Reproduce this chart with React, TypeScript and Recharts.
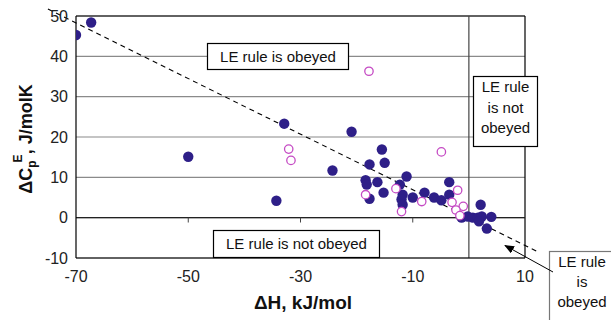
import React from "react";
import {
  ScatterChart,
  Scatter,
  XAxis,
  YAxis,
  CartesianGrid,
  ReferenceLine,
} from "recharts";

const filledX = [-70.0, -67.3, -50.0, -34.3, -32.9, -24.3, -20.9, -15.5, -17.7, -15.0, -18.4, -18.2, -16.3, -17.7, -15.2, -11.1, -12.3, -11.8, -12.0, -11.8, -10.0, -7.9, -6.2, -4.9, -3.5, -3.5, -1.3, -0.2, 0.7, 1.6, 2.3, 1.8, 2.1, 4.0, 3.2];
const filledY = [45.3, 48.4, 15.1, 4.2, 23.3, 11.7, 21.3, 16.9, 13.2, 13.6, 9.3, 8.2, 8.8, 4.7, 6.2, 10.2, 8.2, 5.7, 4.5, 3.2, 5.0, 6.2, 5.0, 4.3, 8.8, 5.7, 0.0, 0.3, 0.0, 0.0, 0.3, -0.9, 3.2, 0.2, -2.7];

const openX = [-32.1, -31.7, -17.8, -18.4, -13.0, -12.0, -8.4, -4.9, -2.0, -3.0, -1.0, -2.3, -1.6];
const openY = [17.0, 14.2, 36.3, 5.7, 7.2, 1.5, 4.0, 16.3, 6.8, 3.8, 2.8, 1.9, 0.5];

const xTicks = [-70, -50, -30, -10, 10];
const yTicks = [-10, 0, 10, 20, 30, 40, 50];
const zeroLineTicksX = [-50, -30, -10];

// LE rule line: y = -0.69 x
const leLine = [
  { x: -75, y: 51.75 },
  { x: 12, y: -8.28 },
];

const filledData = filledX.map((x, i) => ({ x, y: filledY[i] }));
const openData = openX.map((x, i) => ({ x, y: openY[i] }));

const FONT = '"Liberation Sans", Arial, Helvetica, sans-serif';
const NAVY = "#2E1F88";
const MAGENTA = "#C54BC4";

const FilledDot = (props: any) => (
  <circle cx={props.cx} cy={props.cy} r={5.2} fill={NAVY} stroke="none" />
);
const OpenDot = (props: any) => (
  <circle cx={props.cx} cy={props.cy} r={4.2} fill="#fff" stroke={MAGENTA} strokeWidth={1.3} />
);

export default function App() {
  return (
    <div
      style={{
        position: "absolute",
        left: 0,
        top: 0,
        width: 611,
        height: 320,
        background: "#fff",
        fontFamily: FONT,
      }}
    >
      <ScatterChart
        width={611}
        height={320}
        margin={{ top: 16, right: 86, bottom: 32, left: 0 }}
        style={{ fontFamily: FONT }}
      >
        <CartesianGrid vertical={false} stroke="#8a8a8a" strokeWidth={1.2} />
        <XAxis
          type="number"
          dataKey="x"
          domain={[-70, 10]}
          ticks={xTicks}
          allowDataOverflow
          height={30}
          tickLine={false}
          tickMargin={7}
          axisLine={{ stroke: "#000", strokeWidth: 1.2 }}
          tick={{ fill: "#222", fontSize: 16, fontFamily: FONT }}
        />
        <YAxis
          type="number"
          dataKey="y"
          domain={[-10, 50]}
          ticks={yTicks}
          allowDataOverflow
          width={76}
          tickLine={false}
          axisLine={{ stroke: "#000", strokeWidth: 1.2 }}
          tick={{ fill: "#222", fontSize: 16, fontFamily: FONT }}
        />
        <ReferenceLine y={50} stroke="#000" strokeWidth={1.2} />
        <ReferenceLine x={10} stroke="#000" strokeWidth={1.2} />
        <ReferenceLine y={0} stroke="#222" strokeWidth={1.2} />
        <ReferenceLine x={0} stroke="#444" strokeWidth={1.2} />
        {zeroLineTicksX.map((t) => (
          <ReferenceLine
            key={t}
            segment={[
              { x: t, y: 0 },
              { x: t, y: -1.2 },
            ]}
            stroke="#444"
            strokeWidth={1}
          />
        ))}
        <ReferenceLine
          segment={leLine}
          ifOverflow="visible"
          stroke="#000"
          strokeWidth={1.1}
          strokeDasharray="5 4"
        />
        <Scatter data={filledData} shape={FilledDot} isAnimationActive={false} />
        <Scatter data={openData} shape={OpenDot} isAnimationActive={false} />
      </ScatterChart>
      <svg
        width={611}
        height={320}
        style={{ position: "absolute", left: 0, top: 0, pointerEvents: "none" }}
        fontFamily={FONT}
      >
        <defs>
          <marker id="arr" markerWidth="10" markerHeight="8" refX="9" refY="4" orient="auto">
            <path d="M0,0 L10,4 L0,8 z" fill="#000" />
          </marker>
        </defs>
        {/* top box */}
        <rect x={207.5} y={43.5} width={141} height={26} fill="#fff" stroke="#000" strokeWidth={1.2} />
        <text x={278} y={62} textAnchor="middle" fontSize={15} fill="#111">
          LE rule is obeyed
        </text>
        {/* right box */}
        <rect x={473.5} y={76.5} width={64} height={70} fill="#fff" stroke="#000" strokeWidth={1.2} />
        <text textAnchor="middle" fontSize={15} fill="#111">
          <tspan x={505.5} y={92}>LE rule</tspan>
          <tspan x={505.5} y={112.5}>is not</tspan>
          <tspan x={505.5} y={133}>obeyed</tspan>
        </text>
        {/* bottom box */}
        <rect x={213.5} y={230.5} width={166} height={27} fill="#fff" stroke="#000" strokeWidth={1.2} />
        <text x={296.5} y={249} textAnchor="middle" fontSize={15} fill="#111">
          LE rule is not obeyed
        </text>
        {/* bottom right box */}
        <rect x={549.5} y={251.5} width={80} height={90} fill="#fff" stroke="#777" strokeWidth={1.2} />
        <text textAnchor="middle" fontSize={15} fill="#111">
          <tspan x={582} y={267}>LE rule</tspan>
          <tspan x={582} y={287}>is</tspan>
          <tspan x={582} y={307}>obeyed</tspan>
        </text>
        <line x1={553} y1={272} x2={505} y2={245.5} stroke="#000" strokeWidth={1} markerEnd="url(#arr)" />
        {/* axis titles */}
        <text x={303} y={309} textAnchor="middle" fontSize={19} fontWeight="bold" fill="#111">
          ΔH, kJ/mol
        </text>
        <text
          transform="translate(32,139) rotate(-90)"
          textAnchor="middle"
          fontSize={18}
          fontWeight="bold"
          fill="#111"
        >
          ΔC
          <tspan fontSize={12} dy={4}>p</tspan>
          <tspan fontSize={12} dx={-2} dy={-14}>E</tspan>
          <tspan dy={10}>, J/molK</tspan>
        </text>
      </svg>
    </div>
  );
}
